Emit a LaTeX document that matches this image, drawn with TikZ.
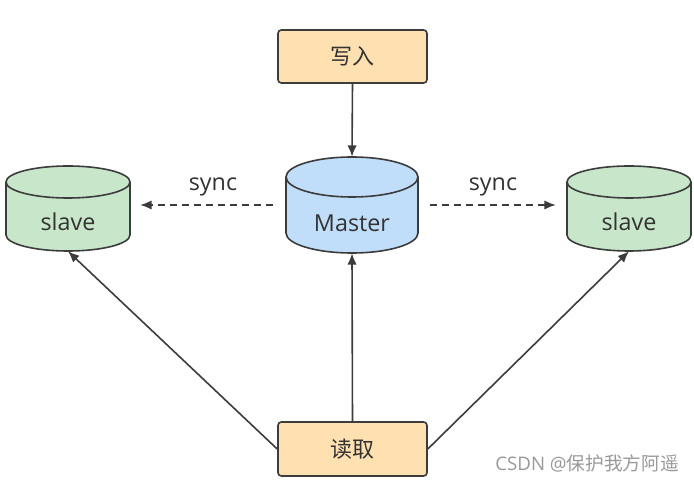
\documentclass[tikz,border=0pt]{standalone}
\usepackage{fontspec}
\setmainfont{Open Sans}
\newfontfamily\cjk{Noto Sans CJK SC}
\usetikzlibrary{arrows.meta}
\definecolor{peach}{HTML}{FFE0B0}
\definecolor{mblue}{HTML}{C0DEF9}
\definecolor{sgreen}{HTML}{C8E6C9}
\definecolor{edge}{HTML}{3C3C3C}
\definecolor{txt}{HTML}{333333}
\tikzset{
  x=0.75pt, y=0.75pt,
  boxnode/.style={draw=edge, line width=1.2pt, fill=peach, rounded corners=2.5pt,
    minimum width=149*0.75pt, minimum height=53*0.75pt, inner sep=0pt,
    font=\cjk\fontsize{16.5}{18}\selectfont, text=txt},
  lbl/.style={font=\fontsize{17.5}{20}\selectfont, text=txt, inner sep=0pt},
  conn/.style={draw=edge, line width=1.2pt, -{Latex[length=8.5pt,width=7pt]}},
  dconn/.style={conn, dash pattern=on 5pt off 4pt},
}
\newcommand\dbcyl[7]{% name, cx, top(px), bottom(px), rx, ry, fill
  \fill[#7] ({#2-#5},{482-#3-#6}) -- ({#2-#5},{482-#4+#6}) arc[start angle=180,end angle=360,x radius=#5,y radius=#6]
     -- ({#2+#5},{482-#3-#6}) arc[start angle=0,end angle=180,x radius=#5,y radius=#6] -- cycle;
  \draw[edge, line width=1.2pt] ({#2-#5},{482-#3-#6}) -- ({#2-#5},{482-#4+#6}) arc[start angle=180,end angle=360,x radius=#5,y radius=#6]
     -- ({#2+#5},{482-#3-#6});
  \draw[edge, line width=1.2pt] (#2,{482-#3-#6}) ellipse[x radius=#5,y radius=#6];
  \node[inner sep=0pt, minimum width={2*#5*0.75pt}, minimum height={(#4-#3)*0.75pt}] (#1) at (#2,{482-(#3+#4)/2}) {};
}
\begin{document}
\begin{tikzpicture}
\useasboundingbox[fill=white] (0,0) rectangle (694,482);
% nodes
\node[boxnode] (w) at (352.5,{482-56.5}) {写入};
\node[boxnode, minimum height=54*0.75pt] (r) at (352.5,{482-449}) {读取};
\dbcyl{M}{352}{157}{253}{66}{20}{mblue}
\dbcyl{SL}{68}{166}{251}{62}{16}{sgreen}
\dbcyl{SR}{629}{166}{251}{62}{16}{sgreen}
\node[lbl] (mt) at (352,{482-223}) {Master};
\node[lbl] (slt) at (68,{482-222}) {slave};
\node[lbl] (srt) at (629,{482-222}) {slave};
\node[lbl] (sy1) at (213,{482-187}) {sync};
\node[lbl] (sy2) at (493,{482-187}) {sync};
\node[font=\fontsize{14}{16}\selectfont, text=black!40, inner sep=0pt, anchor=east] (wm) at (679,{482-463}) {CSDN @{\cjk 保护我方阿遥}};
% connectors
\draw[conn] (w.south) -- (M.north);
\draw[conn] (r.north) -- (M.south);
\draw[dconn, shorten <=9.75pt, shorten >=7.5pt] (M.west) -- (M.west -| SL.east);
\draw[dconn, shorten <=9pt, shorten >=8.25pt] (M.east) -- (M.east -| SR.west);
\draw[conn] (r.west) -- (SL.south);
\draw[conn] (r.east) -- (SR.south);
\end{tikzpicture}
\end{document}
